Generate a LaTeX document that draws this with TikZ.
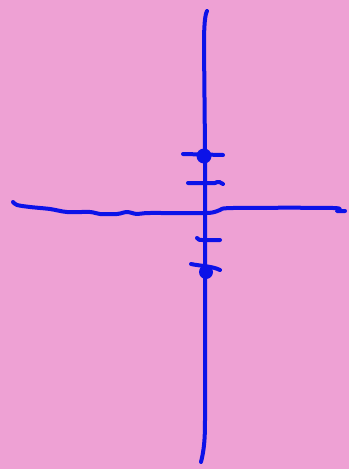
\documentclass[tikz,border=0pt]{standalone}
\definecolor{bg}{RGB}{238,161,212}
\definecolor{ink}{RGB}{12,18,232}
\begin{document}
\begin{tikzpicture}[x=1pt,y=-1pt,
  pen/.style={draw=ink,line width=4pt,line cap=round,line join=round}]
\fill[bg] (0,0) rectangle (349,469);
\useasboundingbox (0,0) rectangle (349,469);
% vertical axis
\draw[pen] (207,11) .. controls (205,15) and (204,25) .. (204,45) -- (205,150) -- (205,300) -- (205,420) .. controls (205,440) and (204,450) .. (201,462);
% horizontal axis
\draw[pen] plot[smooth,tension=0.5] coordinates {(13,202) (17,205) (30,207) (50,209) (67,212) (90,212) (100,214) (117,214) (127,212) (137,214) (150,213) (207,213) (220,210) (233,208) (333,208) (337,211) (345,211)};
% ticks
\draw[pen] (183,154) -- (223,155);
\fill[ink] (204,156) circle (7.5);
\draw[pen] (188,183) -- (215,183) .. controls (218,181) and (221,182) .. (223,184);
\draw[pen] (197,238) .. controls (199,240) .. (202,240) -- (220,240);
\draw[pen] (191,264) .. controls (200,266) and (212,266) .. (220,270);
\fill[ink] (206,272) circle (7);
\end{tikzpicture}
\end{document}
